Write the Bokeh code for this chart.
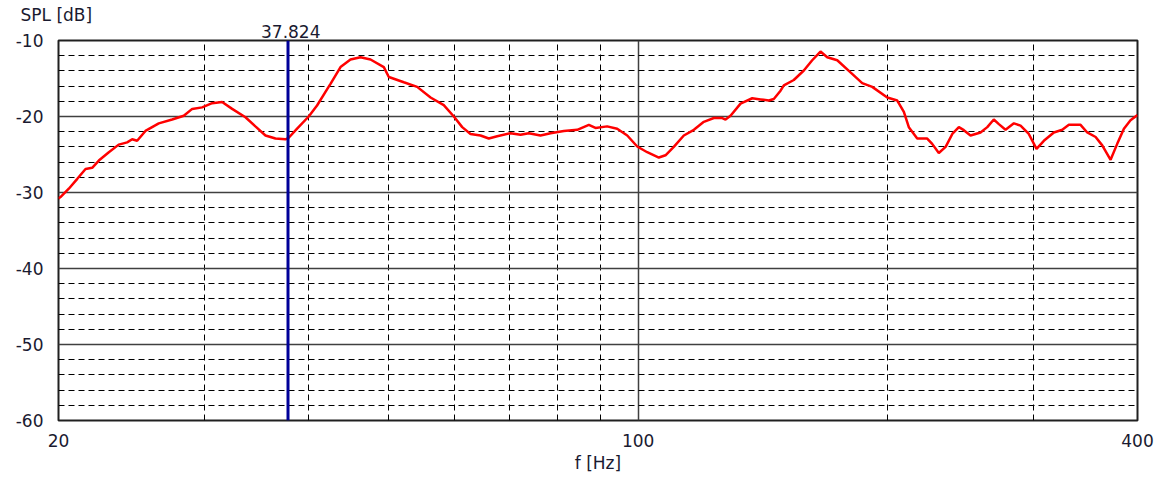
import math
from bokeh.plotting import figure
from bokeh.models import Range1d, FixedTicker, PrintfTickFormatter, Span, Title
from bokeh.embed import file_html
from bokeh.resources import INLINE

freq = [20.0, 20.11, 20.58, 21.07, 21.56, 21.96, 22.37, 23.00, 23.64, 24.20,
        24.54, 24.88, 25.46, 26.42, 27.42, 28.32, 28.99, 29.80, 30.64, 31.50,
        32.39, 33.61, 34.55, 35.53, 36.53, 37.55, 37.90, 38.79, 40.06, 41.00,
        42.17, 42.56, 43.76, 44.99, 46.26, 47.56, 49.35, 50.04, 52.17, 54.14,
        56.19, 58.29, 59.94, 61.35, 62.78, 64.55, 66.05, 67.61, 70.15, 72.13,
        73.81, 76.24, 78.40, 81.34, 84.43, 87.20, 88.82, 91.75, 94.34, 97.01,
        99.73, 102.54, 105.91, 107.88, 110.39, 113.51, 116.72, 119.99, 123.38, 126.28,
        127.45, 129.22, 132.87, 137.25, 140.45, 143.72, 145.72, 148.47, 149.84, 154.04,
        158.39, 162.12, 165.89, 169.02, 173.79, 180.31, 186.26, 191.52, 199.68, 205.3,
        209.1, 212.0, 217.0, 223.1, 226.2, 230.4, 234.8, 239.2, 243.6, 247.0,
        251.6, 258.7, 263.6, 268.4, 272.2, 277.3, 283.8, 289.1, 295.8, 302.2,
        308.4, 317.1, 324.6, 330.6, 341.5, 347.9, 356.1, 362.7, 371.2, 378.1,
        385.2, 392.3, 400.0]

spl = [-30.8, -30.6, -29.5, -28.2, -26.9, -26.75, -25.8, -24.7, -23.7, -23.4,
       -23.0, -23.2, -21.9, -20.9, -20.4, -19.9, -19.0, -18.8, -18.25, -18.1,
       -19.0, -20.1, -21.3, -22.5, -22.9, -23.0, -22.8, -21.6, -20.0, -18.55,
       -16.4, -15.7, -13.5, -12.5, -12.2, -12.5, -13.5, -14.8, -15.5, -16.1,
       -17.5, -18.5, -20.0, -21.4, -22.3, -22.5, -22.9, -22.6, -22.2, -22.4,
       -22.2, -22.5, -22.2, -21.9, -21.75, -21.1, -21.5, -21.3, -21.6, -22.5,
       -23.95, -24.7, -25.4, -25.1, -24.0, -22.5, -21.75, -20.7, -20.2, -20.2,
       -20.4, -19.9, -18.3, -17.6, -17.75, -17.9, -17.7, -16.6, -15.9, -15.2,
       -13.95, -12.6, -11.45, -12.2, -12.6, -14.2, -15.6, -16.1, -17.5, -17.9,
       -19.4, -21.4, -22.9, -22.9, -23.6, -24.8, -24.0, -22.3, -21.4, -21.8,
       -22.5, -22.1, -21.4, -20.4, -21.0, -21.75, -20.9, -21.2, -22.3, -24.25,
       -23.2, -22.1, -21.75, -21.1, -21.1, -22.1, -22.7, -23.8, -25.7, -23.6,
       -21.6, -20.5, -19.8]

x_min, x_max = 20, 400
y_min, y_max = -60, -10
x_major = [20, 100, 400]
x_minor = [30, 40, 50, 60, 70, 80, 90, 200, 300]
y_major = [-60, -50, -40, -30, -20, -10]
y_minor = [v for v in range(-60, -9, 2) if v % 10 != 0]
marker_freq = 37.824
marker_text = "37.824"
y_title = "SPL [dB]"
x_title = "f [Hz]"

FONT = "DejaVu Sans"
FS = "17px"
TXT = "#1a1a30"

BL, BR, BT, BB = 58, 23, 40, 60
W, H = 1160, 480
frame_w = W - BL - BR

p = figure(width=W, height=H, x_axis_type="log",
           x_range=Range1d(x_min, x_max), y_range=Range1d(y_min, y_max),
           output_backend="svg", toolbar_location=None,
           min_border_left=BL, min_border_right=BR,
           min_border_top=BT, min_border_bottom=BB)

p.background_fill_color = "white"
p.border_fill_color = "white"
p.outline_line_color = "#202020"
p.outline_line_width = 2

p.xaxis.ticker = FixedTicker(ticks=x_major, minor_ticks=x_minor)
p.yaxis.ticker = FixedTicker(ticks=y_major, minor_ticks=y_minor)
p.xaxis.formatter = PrintfTickFormatter(format="%d")
p.yaxis.formatter = PrintfTickFormatter(format="%d")

for ax in (p.xaxis, p.yaxis):
    ax.axis_line_color = None
    ax.major_tick_line_color = None
    ax.minor_tick_line_color = None
    ax.major_tick_out = 0
    ax.major_tick_in = 0
    ax.minor_tick_out = 0
    ax.minor_tick_in = 0
    ax.major_label_text_font = FONT
    ax.major_label_text_font_size = FS
    ax.major_label_text_color = TXT

p.yaxis.major_label_standoff = 15
p.xaxis.major_label_standoff = 13
p.xaxis.axis_label = x_title
p.xaxis.axis_label_text_font = FONT
p.xaxis.axis_label_text_font_size = FS
p.xaxis.axis_label_text_font_style = "normal"
p.xaxis.axis_label_text_color = TXT
p.xaxis.axis_label_standoff = 3

for g in (p.xgrid, p.ygrid):
    g.grid_line_color = "#404040"
    g.grid_line_width = 1.5
    g.minor_grid_line_color = "black"
    g.minor_grid_line_width = 1
    g.minor_grid_line_dash = "6 4"

p.line(freq, spl, line_color="#ff0000", line_width=2.5)

p.add_layout(Span(location=marker_freq, dimension="height",
                  line_color="#000099", line_width=3))

# y-axis title at the top-left (outer title row)
p.title.text = y_title
p.title.align = "left"
p.title.offset = -38
p.title.text_font = FONT
p.title.text_font_size = FS
p.title.text_font_style = "normal"
p.title.text_color = TXT
p.title.standoff = -10

# marker value above the frame, centred on the marker frequency (inner row)
frac = math.log10(marker_freq / x_min) / math.log10(x_max / x_min)
text_w = 60
p.add_layout(Title(text=marker_text, align="left",
                   offset=frac * frame_w - text_w / 2 + 3, text_font=FONT,
                   text_font_size=FS, text_font_style="normal",
                   text_color=TXT, standoff=6), "above")

open("out.html", "w").write(file_html(p, INLINE))
